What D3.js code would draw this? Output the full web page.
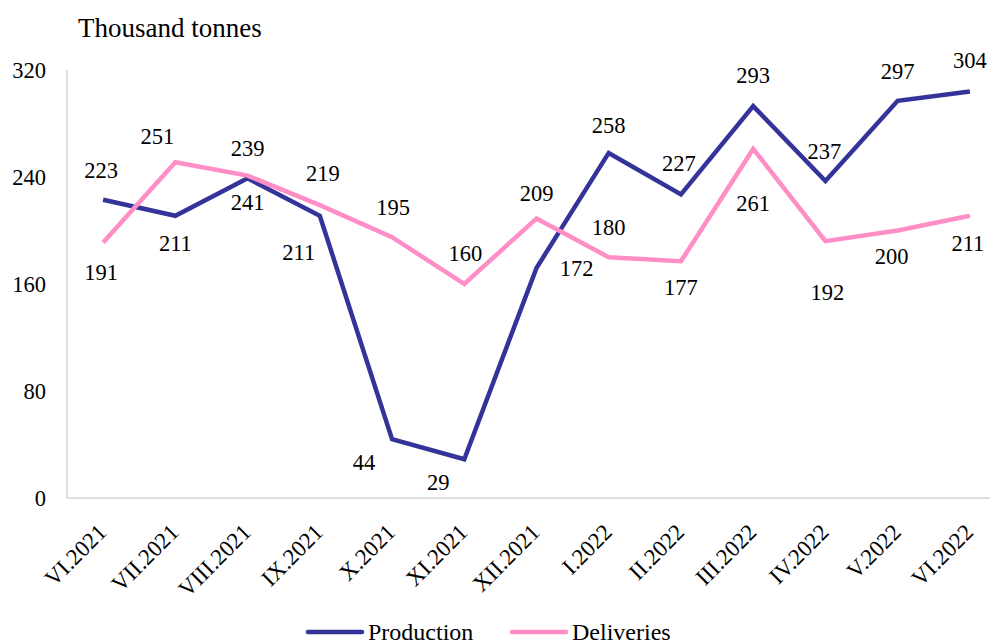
<!DOCTYPE html>
<html>
<head>
<meta charset="utf-8">
<script src="https://cdn.jsdelivr.net/npm/d3@7"></script>
<style>
  body { margin: 0; background: #fff; }
  svg text { font-family: "Liberation Serif", "Times New Roman", serif; fill: #000; }
</style>
</head>
<body>
<div id="chart"></div>
<script>
// ---------------- data ----------------
var months = ["VI.2021", "VII.2021", "VIII.2021", "IX.2021", "X.2021", "XI.2021", "XII.2021",
              "I.2022", "II.2022", "III.2022", "IV.2022", "V.2022", "VI.2022"];
var production = [223, 211, 239, 211, 44, 29, 172, 258, 227, 293, 237, 297, 304];
var deliveries = [191, 251, 241, 219, 195, 160, 209, 180, 177, 261, 192, 200, 211];
var yTicks = [0, 80, 160, 240, 320];

// label placement (offset of label centre from the point)
var prodLabelOffset = [[-2,-30],[0,27],[0,-30],[-21,36],[-28,23],[-26,23],[40,0],
                       [0,-28],[-2,-31],[0,-31],[-1,-30],[0,-30],[0,-31]];
var delivLabelOffset = [[-2,30],[-18,-26],[0,26],[3,-32],[1,-30],[1,-31],[0,-25],
                        [0,-30],[0,26],[0,54],[2,51],[-6,26],[-2,27]];

function init() {
    var w = 990, h = 644;

    var svg = d3.select("#chart").append("svg")
        .attr("width", w)
        .attr("height", h);

    var x = d3.scalePoint()
        .domain(months)
        .range([67, 1006])
        .padding(0.5);

    var y = d3.scaleLinear()
        .domain([0, 320])
        .range([498, 70]);

    // axes (plain lines, no ticks)
    svg.append("line")
        .attr("x1", 67).attr("x2", 67)
        .attr("y1", y(320)).attr("y2", y(0))
        .attr("stroke", "#bfbfbf").attr("stroke-width", 1);
    svg.append("line")
        .attr("x1", 67).attr("x2", 990)
        .attr("y1", y(0)).attr("y2", y(0))
        .attr("stroke", "#bfbfbf").attr("stroke-width", 1);

    // y tick labels
    svg.selectAll(".ytick")
        .data(yTicks)
        .enter().append("text")
        .attr("class", "ytick")
        .attr("x", 46)
        .attr("y", function(d) { return y(d); })
        .attr("dy", "0.35em")
        .attr("text-anchor", "end")
        .style("font-size", "22.5px")
        .text(function(d) { return d; });

    // unit title
    svg.append("text")
        .attr("x", 78).attr("y", 37)
        .style("font-size", "27px")
        .text("Thousand tonnes");

    // x labels rotated
    svg.selectAll(".xlab")
        .data(months)
        .enter().append("text")
        .attr("class", "xlab")
        .attr("transform", function(d) { return "translate(" + (x(d) - 1) + ",528) rotate(-45)"; })
        .attr("dy", "0.35em")
        .attr("text-anchor", "end")
        .style("font-size", "23px")
        .text(function(d) { return d; });

    var line = d3.line()
        .x(function(d, i) { return x(months[i]); })
        .y(function(d) { return y(d); });

    var series = [
        { name: "Production", values: production, color: "#333399", off: prodLabelOffset },
        { name: "Deliveries", values: deliveries, color: "#ff8dc6", off: delivLabelOffset }
    ];

    series.forEach(function(s) {
        svg.append("path")
            .datum(s.values)
            .attr("d", line)
            .attr("fill", "none")
            .attr("stroke", s.color)
            .attr("stroke-width", 4.5)
            .attr("stroke-linejoin", "miter");
    });

    series.forEach(function(s) {
        svg.selectAll(null)
            .data(s.values)
            .enter().append("text")
            .attr("x", function(d, i) { return x(months[i]) + s.off[i][0]; })
            .attr("y", function(d, i) { return y(d) + s.off[i][1]; })
            .attr("dy", "0.35em")
            .attr("text-anchor", "middle")
            .style("font-size", "22.5px")
            .text(function(d) { return d; });
    });

    // legend
    var legendX = [308, 512];
    var leg = svg.selectAll(".leg")
        .data(series)
        .enter().append("g")
        .attr("class", "leg")
        .attr("transform", function(d, i) { return "translate(" + legendX[i] + ",632)"; });
    leg.append("line")
        .attr("x1", 0).attr("x2", 54)
        .attr("y1", 0).attr("y2", 0)
        .attr("stroke", function(d) { return d.color; })
        .attr("stroke-width", 4.5)
        .attr("stroke-linecap", "round");
    leg.append("text")
        .attr("x", 60)
        .attr("y", 0)
        .attr("dy", "0.35em")
        .style("font-size", "24px")
        .text(function(d) { return d.name; });
}

window.onload = init;
</script>
</body>
</html>
